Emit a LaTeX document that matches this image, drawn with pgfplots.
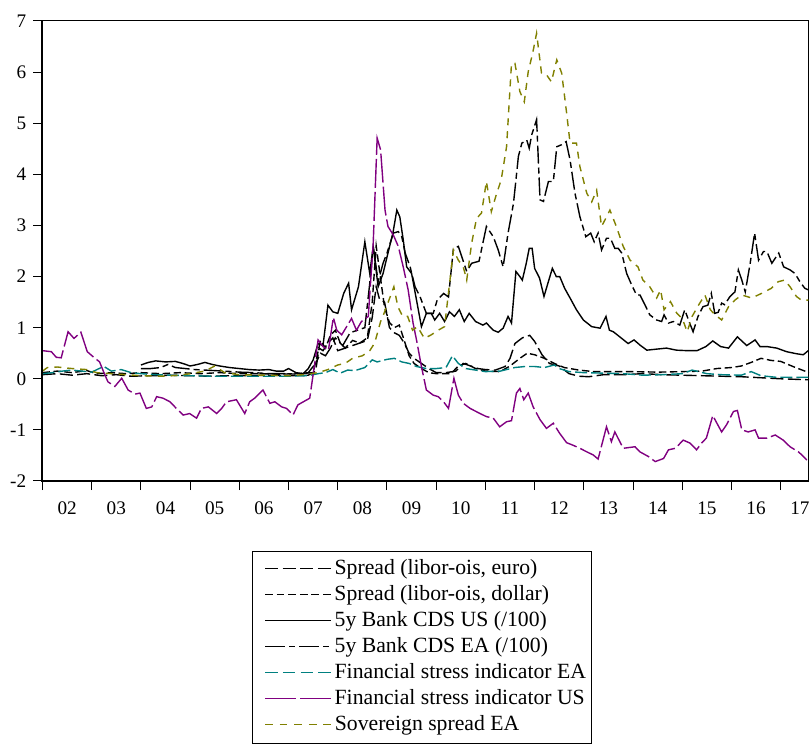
\documentclass[border=0pt]{standalone}
\usepackage{fontspec}
\setmainfont{Liberation Serif}
\usepackage{pgfplots}
\pgfplotsset{compat=1.18}
\definecolor{fsiea}{RGB}{0,128,128}
\definecolor{fsius}{RGB}{128,0,128}
\definecolor{sov}{RGB}{128,128,0}
\newcommand{\seg}[1]{\rule[2.8pt]{#1}{0.65pt}}
\newcommand{\gap}[1]{\hspace*{#1}}
\begin{document}
\begin{tikzpicture}
\begin{axis}[
 at={(0,0)}, anchor=south west,
 scale only axis, width=383.25pt, height=230pt,
 xmin=2002, xmax=2017.575, ymin=-2, ymax=7,
 clip=false,
 axis line style={line width=0.5pt},
 tick align=outside, tick pos=left,
 tick style={line width=0.5pt, black},
 xtick={2002,2003,...,2017}, xticklabels={},
 minor x tick num=3,
 major tick length=4.6pt, minor tick length=2.4pt,
 ytick={-2,-1,...,7}, yticklabels={-2,-1,0,1,2,3,4,5,6,7},
 extra x ticks={2002.5,2003.5,2004.5,2005.5,2006.5,2007.5,2008.5,2009.5,2010.5,2011.5,2012.5,2013.5,2014.5,2015.5,2016.5,2017.39},
 extra x tick labels={02,03,04,05,06,07,08,09,10,11,12,13,14,15,16,17},
 extra x tick style={major tick length=0pt, xticklabel style={yshift=-7pt}},
 tick label style={font=\fontsize{9.6}{11}\selectfont},
 every axis plot/.append style={line width=0.7pt},
 legend cell align=left,
 legend image code/.code={},
 legend style={name=leg, at={(axis description cs:0.2742,-0.1522)}, anchor=north west,
   draw=none, fill=none, font=\fontsize{10.85}{12}\selectfont,
   inner xsep=1pt, inner ysep=2.5pt, row sep=0pt, column sep=0pt,
   nodes={inner ysep=1.5pt, inner xsep=1.5pt, text height=7.5pt, text depth=2.5pt}},
]
% Spread euro
\addplot[draw=black, dash pattern=on 6.5pt off 2.2pt] coordinates {
(2002.0,0.08)(2002.3,0.1)(2002.6,0.07)(2002.9,0.1)(2003.2,0.06)(2003.5,0.08)(2003.8,0.05)
(2004.2,0.06)(2004.6,0.07)(2005.0,0.06)(2005.4,0.05)(2005.8,0.06)(2006.2,0.06)(2006.6,0.07)
(2007.0,0.06)(2007.4,0.07)(2007.55,0.15)(2007.62,0.6)(2007.7,0.55)(2007.8,0.7)(2007.9,0.8)
(2008.0,0.55)(2008.15,0.6)(2008.3,0.65)(2008.45,0.7)(2008.6,0.75)(2008.7,1.2)(2008.78,1.8)
(2008.85,1.55)(2008.95,1.5)(2009.05,1.0)(2009.15,0.9)(2009.25,0.85)(2009.35,0.7)(2009.45,0.5)
(2009.55,0.4)(2009.7,0.3)(2009.85,0.2)(2010.0,0.12)(2010.2,0.12)(2010.4,0.15)(2010.55,0.3)
(2010.7,0.25)(2010.85,0.2)(2011.0,0.18)(2011.2,0.17)(2011.4,0.24)(2011.5,0.4)(2011.6,0.69)
(2011.75,0.8)(2011.9,0.85)(2012.0,0.73)(2012.15,0.47)(2012.3,0.3)(2012.5,0.25)(2012.7,0.1)
(2012.9,0.05)(2013.1,0.04)(2013.4,0.08)(2013.8,0.08)(2014.2,0.1)(2014.6,0.08)(2015.0,0.07)
(2015.4,0.06)(2015.8,0.05)(2016.2,0.04)(2016.6,0.02)(2017.0,0.0)(2017.575,-0.02)};
\addlegendentry{\gap{3.5pt}\seg{6.6pt}\gap{2.2pt}\seg{6.6pt}\gap{2.2pt}\seg{6.6pt}\gap{2.2pt}\seg{6.6pt}\gap{1.8pt}Spread (libor-ois, euro)}
% Spread dollar
\addplot[draw=black, dash pattern=on 3.7pt off 1.8pt] coordinates {
(2002.0,0.12)(2002.3,0.15)(2002.6,0.12)(2002.9,0.16)(2003.1,0.1)(2003.4,0.12)(2003.7,0.1)
(2004.0,0.12)(2004.4,0.1)(2004.8,0.12)(2005.2,0.1)(2005.6,0.12)(2006.0,0.1)(2006.4,0.1)
(2006.8,0.09)(2007.2,0.1)(2007.5,0.12)(2007.58,0.45)(2007.65,0.75)(2007.75,0.6)(2007.85,0.85)
(2007.95,0.95)(2008.05,0.7)(2008.15,0.6)(2008.3,0.75)(2008.45,0.7)(2008.6,0.8)(2008.7,1.5)
(2008.78,2.6)(2008.85,2.1)(2008.95,1.4)(2009.05,1.1)(2009.15,1.0)(2009.25,1.05)(2009.35,0.75)
(2009.45,0.45)(2009.55,0.3)(2009.7,0.2)(2009.85,0.12)(2010.0,0.1)(2010.3,0.1)(2010.45,0.25)
(2010.6,0.3)(2010.8,0.2)(2011.0,0.15)(2011.3,0.14)(2011.5,0.25)(2011.7,0.4)(2011.85,0.5)
(2012.0,0.47)(2012.2,0.4)(2012.4,0.3)(2012.6,0.22)(2012.9,0.17)(2013.2,0.14)(2013.6,0.14)
(2014.0,0.14)(2014.5,0.13)(2015.0,0.14)(2015.4,0.15)(2015.7,0.2)(2016.0,0.22)(2016.2,0.25)
(2016.4,0.32)(2016.6,0.4)(2016.8,0.36)(2017.0,0.34)(2017.3,0.22)(2017.575,0.12)};
\addlegendentry{\gap{3.5pt}\seg{3.9pt}\gap{1.9pt}\seg{3.9pt}\gap{1.9pt}\seg{3.9pt}\gap{1.9pt}\seg{3.9pt}\gap{1.9pt}\seg{3.9pt}\gap{1.9pt}\seg{3.9pt}\gap{1.8pt}Spread (libor-ois, dollar)}
% CDS US
\addplot[draw=black, solid] coordinates {
(2004.0,0.27)(2004.15,0.32)(2004.3,0.35)(2004.5,0.33)(2004.7,0.34)(2004.85,0.3)(2005.0,0.25)
(2005.15,0.28)(2005.3,0.32)(2005.45,0.28)(2005.6,0.25)(2005.8,0.22)(2006.0,0.2)(2006.2,0.18)
(2006.4,0.17)(2006.6,0.18)(2006.75,0.15)(2006.9,0.15)(2007.0,0.2)(2007.15,0.12)(2007.3,0.1)
(2007.4,0.2)(2007.5,0.37)(2007.6,0.69)(2007.7,0.65)(2007.8,1.44)(2007.9,1.31)(2008.0,1.28)
(2008.12,1.67)(2008.22,1.87)(2008.28,1.35)(2008.42,1.8)(2008.55,2.68)(2008.65,2.06)(2008.72,2.59)
(2008.82,1.80)(2008.92,2.06)(2009.02,2.46)(2009.12,2.85)(2009.2,3.30)(2009.26,3.17)(2009.33,2.72)
(2009.4,2.19)(2009.5,2.06)(2009.6,1.54)(2009.7,1.02)(2009.8,1.28)(2009.9,1.28)(2009.97,1.15)
(2010.07,1.28)(2010.17,1.12)(2010.27,1.31)(2010.37,1.22)(2010.47,1.35)(2010.57,1.12)(2010.67,1.28)
(2010.8,1.12)(2010.95,1.05)(2011.02,1.09)(2011.16,0.95)(2011.26,0.91)(2011.36,0.99)(2011.46,1.22)
(2011.53,1.09)(2011.62,2.10)(2011.7,2.0)(2011.75,1.93)(2011.83,2.26)(2011.89,2.55)(2011.95,2.55)
(2012.0,2.16)(2012.1,1.97)(2012.19,1.61)(2012.27,1.87)(2012.36,2.16)(2012.44,2.0)(2012.51,2.0)
(2012.61,1.77)(2012.72,1.58)(2012.85,1.35)(2012.99,1.15)(2013.16,1.02)(2013.33,0.99)(2013.45,1.22)
(2013.52,0.95)(2013.6,0.92)(2013.73,0.82)(2013.9,0.69)(2014.02,0.76)(2014.14,0.66)(2014.28,0.56)
(2014.48,0.58)(2014.68,0.6)(2014.88,0.56)(2015.1,0.55)(2015.3,0.55)(2015.48,0.63)(2015.62,0.74)
(2015.78,0.63)(2015.94,0.6)(2016.12,0.82)(2016.31,0.65)(2016.48,0.76)(2016.58,0.63)(2016.72,0.63)
(2016.92,0.6)(2017.12,0.53)(2017.32,0.49)(2017.46,0.47)(2017.56,0.55)};
\addlegendentry{\gap{3.5pt}\seg{33pt}\gap{1.8pt}5y Bank CDS US (/100)}
% CDS EA
\addplot[draw=black, dash pattern=on 9pt off 2pt on 3pt off 2pt] coordinates {
(2004.0,0.2)(2004.2,0.2)(2004.4,0.22)(2004.55,0.28)(2004.7,0.22)(2004.9,0.2)(2005.1,0.18)
(2005.3,0.17)(2005.5,0.16)(2005.7,0.15)(2006.0,0.13)(2006.3,0.12)(2006.6,0.1)(2006.9,0.1)
(2007.2,0.09)(2007.4,0.12)(2007.55,0.3)(2007.65,0.5)(2007.75,0.45)(2007.85,0.6)(2007.95,0.8)
(2008.1,0.65)(2008.25,0.9)(2008.4,0.95)(2008.55,1.0)(2008.65,1.87)(2008.72,2.59)(2008.82,1.9)
(2008.92,2.26)(2009.0,2.46)(2009.13,2.85)(2009.23,2.88)(2009.3,2.78)(2009.37,2.46)(2009.47,2.19)
(2009.57,1.8)(2009.67,1.61)(2009.8,1.28)(2009.94,1.28)(2010.02,1.54)(2010.15,1.67)(2010.25,1.6)
(2010.35,2.55)(2010.45,2.59)(2010.62,2.1)(2010.72,2.26)(2010.87,2.3)(2011.02,2.98)(2011.16,2.78)
(2011.26,2.52)(2011.36,2.19)(2011.46,2.85)(2011.57,3.43)(2011.67,4.35)(2011.74,4.61)(2011.84,4.67)
(2011.89,4.51)(2011.94,4.77)(2012.04,5.07)(2012.11,3.5)(2012.18,3.47)(2012.28,3.86)(2012.38,3.86)
(2012.45,4.54)(2012.55,4.58)(2012.64,4.64)(2012.72,4.28)(2012.82,3.63)(2012.92,3.17)(2013.04,2.78)
(2013.14,2.85)(2013.21,2.68)(2013.29,2.85)(2013.36,2.52)(2013.46,2.75)(2013.54,2.75)(2013.63,2.55)
(2013.7,2.55)(2013.77,2.46)(2013.87,2.06)(2013.97,1.84)(2014.07,1.64)(2014.14,1.64)(2014.24,1.45)
(2014.34,1.25)(2014.48,1.15)(2014.58,1.12)(2014.63,1.25)(2014.72,1.09)(2014.82,1.12)(2014.95,1.05)
(2015.05,1.35)(2015.15,1.09)(2015.22,0.92)(2015.32,1.22)(2015.42,1.41)(2015.52,1.44)(2015.59,1.67)
(2015.66,1.28)(2015.73,1.3)(2015.8,1.48)(2015.86,1.45)(2015.97,1.61)(2016.07,1.7)(2016.14,2.13)
(2016.21,1.93)(2016.28,1.7)(2016.38,2.26)(2016.47,2.85)(2016.55,2.32)(2016.65,2.49)(2016.72,2.49)
(2016.82,2.26)(2016.96,2.46)(2017.06,2.19)(2017.19,2.13)(2017.29,2.06)(2017.39,1.90)(2017.49,1.77)
(2017.56,1.74)};
\addlegendentry{\gap{3.5pt}\seg{10pt}\gap{2pt}\seg{3pt}\gap{2pt}\seg{10pt}\gap{2pt}\seg{3pt}\gap{2.8pt}5y Bank CDS EA (/100)}
% FSI EA
\addplot[draw=fsiea, dash pattern=on 6pt off 2pt] coordinates {
(2002.0,0.1)(2002.2,0.12)(2002.4,0.15)(2002.6,0.17)(2002.8,0.15)(2003.0,0.13)(2003.15,0.2)
(2003.25,0.24)(2003.4,0.15)(2003.6,0.18)(2003.8,0.12)(2004.0,0.1)(2004.3,0.08)(2004.6,0.07)
(2005.0,0.06)(2005.5,0.05)(2006.0,0.05)(2006.5,0.05)(2007.0,0.05)(2007.4,0.06)(2007.6,0.1)
(2007.75,0.12)(2007.9,0.18)(2008.05,0.11)(2008.2,0.17)(2008.35,0.16)(2008.55,0.22)(2008.7,0.37)
(2008.8,0.33)(2009.0,0.38)(2009.15,0.4)(2009.3,0.33)(2009.45,0.3)(2009.6,0.24)(2009.8,0.2)
(2010.0,0.2)(2010.2,0.22)(2010.33,0.45)(2010.45,0.3)(2010.6,0.2)(2010.8,0.17)(2011.0,0.14)
(2011.3,0.15)(2011.6,0.22)(2011.8,0.24)(2012.0,0.24)(2012.2,0.22)(2012.4,0.27)(2012.5,0.2)
(2012.7,0.14)(2013.0,0.12)(2013.4,0.11)(2013.8,0.1)(2014.2,0.07)(2014.6,0.08)(2015.0,0.1)
(2015.2,0.17)(2015.5,0.1)(2015.8,0.08)(2016.2,0.07)(2016.4,0.14)(2016.6,0.06)(2016.9,0.03)
(2017.2,0.03)(2017.575,0.03)};
\addlegendentry{\gap{3.5pt}\textcolor{fsiea}{\seg{6.3pt}\gap{2.6pt}\seg{6.3pt}\gap{2.6pt}\seg{6.3pt}\gap{2.6pt}\seg{6.3pt}}\gap{1.8pt}Financial stress indicator EA}
% FSI US
\addplot[draw=fsius, dash pattern=on 14.5pt off 2pt] coordinates {
(2002.0,0.55)(2002.18,0.53)(2002.28,0.42)(2002.38,0.41)(2002.52,0.92)(2002.64,0.79)(2002.78,0.91)
(2002.91,0.53)(2003.03,0.43)(2003.16,0.33)(2003.27,0.07)(2003.33,-0.06)(2003.47,-0.15)(2003.61,0.01)
(2003.74,-0.22)(2003.88,-0.30)(2003.98,-0.28)(2004.11,-0.58)(2004.22,-0.55)(2004.32,-0.35)(2004.45,-0.38)
(2004.59,-0.45)(2004.72,-0.58)(2004.86,-0.71)(2004.99,-0.68)(2005.13,-0.77)(2005.23,-0.58)(2005.37,-0.55)
(2005.54,-0.68)(2005.64,-0.58)(2005.74,-0.45)(2005.94,-0.41)(2006.11,-0.68)(2006.21,-0.45)(2006.31,-0.38)
(2006.48,-0.22)(2006.62,-0.48)(2006.72,-0.45)(2006.86,-0.55)(2006.96,-0.58)(2007.09,-0.71)(2007.19,-0.51)
(2007.43,-0.38)(2007.60,0.76)(2007.70,0.63)(2007.81,0.56)(2007.91,1.2)(2007.98,0.95)(2008.08,0.86)
(2008.18,1.02)(2008.28,1.18)(2008.38,0.95)(2008.48,1.12)(2008.62,1.22)(2008.72,2.65)(2008.80,4.71)
(2008.87,4.48)(2008.96,3.30)(2009.02,2.98)(2009.13,2.81)(2009.23,2.59)(2009.33,2.19)(2009.43,1.74)
(2009.53,1.09)(2009.60,0.76)(2009.70,0.24)(2009.80,-0.22)(2009.94,-0.32)(2010.04,-0.35)(2010.15,-0.45)
(2010.25,-0.58)(2010.36,0.01)(2010.45,-0.32)(2010.55,-0.48)(2010.69,-0.58)(2010.89,-0.68)(2011.02,-0.74)
(2011.16,-0.77)(2011.29,-0.94)(2011.43,-0.84)(2011.53,-0.82)(2011.63,-0.28)(2011.70,-0.19)(2011.78,-0.41)
(2011.87,-0.28)(2011.97,-0.55)(2012.11,-0.80)(2012.24,-0.97)(2012.38,-0.87)(2012.51,-1.07)(2012.65,-1.25)
(2012.78,-1.30)(2012.92,-1.36)(2013.06,-1.43)(2013.19,-1.49)(2013.29,-1.57)(2013.46,-0.94)(2013.56,-1.23)
(2013.63,-1.04)(2013.80,-1.36)(2014.04,-1.33)(2014.14,-1.43)(2014.31,-1.52)(2014.45,-1.62)(2014.62,-1.56)
(2014.72,-1.39)(2014.86,-1.36)(2015.02,-1.20)(2015.16,-1.26)(2015.29,-1.39)(2015.39,-1.26)(2015.49,-1.16)
(2015.62,-0.72)(2015.80,-1.04)(2015.90,-0.90)(2016.04,-0.64)(2016.12,-0.62)(2016.21,-1.00)(2016.34,-1.04)
(2016.48,-1.00)(2016.55,-1.16)(2016.72,-1.16)(2016.89,-1.10)(2017.05,-1.20)(2017.19,-1.33)(2017.36,-1.43)
(2017.43,-1.49)(2017.53,-1.59)};
\addlegendentry{\gap{3.5pt}\textcolor{fsius}{\seg{15.5pt}\gap{2pt}\seg{15.5pt}}\gap{1.8pt}Financial stress indicator US}
% Sovereign spread EA
\addplot[draw=sov, dash pattern=on 3.5pt off 3pt] coordinates {
(2002.0,0.15)(2002.1,0.22)(2002.3,0.23)(2002.6,0.2)(2002.9,0.18)(2003.1,0.12)(2003.4,0.1)
(2003.7,0.08)(2004.0,0.06)(2004.5,0.05)(2004.8,0.07)(2005.0,0.1)(2005.3,0.15)(2005.5,0.25)
(2005.7,0.12)(2006.0,0.08)(2006.5,0.07)(2007.0,0.06)(2007.3,0.08)(2007.6,0.12)(2007.8,0.18)
(2008.0,0.27)(2008.15,0.3)(2008.3,0.4)(2008.5,0.45)(2008.65,0.55)(2008.75,0.7)(2008.87,1.12)
(2008.94,1.28)(2009.04,1.54)(2009.14,1.80)(2009.22,1.41)(2009.32,1.22)(2009.42,1.22)(2009.52,0.95)
(2009.62,1.02)(2009.76,0.79)(2009.9,0.86)(2010.04,0.95)(2010.17,1.02)(2010.35,2.52)(2010.45,2.32)
(2010.55,2.19)(2010.62,1.93)(2010.72,2.65)(2010.82,3.14)(2010.92,3.24)(2011.02,3.86)(2011.12,3.27)
(2011.22,3.60)(2011.32,3.89)(2011.43,4.54)(2011.53,6.17)(2011.6,6.17)(2011.7,5.62)(2011.79,5.42)
(2011.87,6.01)(2011.96,6.37)(2012.04,6.76)(2012.14,5.98)(2012.24,5.95)(2012.34,5.81)(2012.45,6.24)
(2012.55,5.98)(2012.65,5.20)(2012.72,4.61)(2012.85,4.61)(2012.92,4.15)(2013.06,3.63)(2013.16,3.46)
(2013.26,3.69)(2013.36,2.98)(2013.43,3.11)(2013.53,3.30)(2013.66,2.98)(2013.8,2.59)(2013.94,2.32)
(2014.1,2.19)(2014.2,1.93)(2014.34,1.80)(2014.48,1.58)(2014.56,1.74)(2014.63,1.35)(2014.76,1.51)
(2014.89,1.28)(2015.0,1.18)(2015.1,0.92)(2015.2,1.22)(2015.33,1.44)(2015.46,1.64)(2015.57,1.35)
(2015.67,1.25)(2015.8,1.15)(2015.94,1.41)(2016.07,1.54)(2016.21,1.64)(2016.41,1.58)(2016.61,1.67)
(2016.81,1.77)(2016.95,1.90)(2017.08,1.93)(2017.19,1.80)(2017.32,1.61)(2017.42,1.54)(2017.56,1.54)};
\addlegendentry{\gap{3.5pt}\textcolor{sov}{\seg{3.9pt}\gap{3.4pt}\seg{3.9pt}\gap{3.4pt}\seg{3.9pt}\gap{3.4pt}\seg{3.9pt}\gap{3.4pt}\seg{3.9pt}}\gap{1.8pt}Sovereign spread EA}
\draw[line width=1pt] (rel axis cs:0,1) -- (rel axis cs:0,0) -- (rel axis cs:1,0);
\end{axis}
\draw[line width=0.5pt] (leg.north west) rectangle (leg.south east);
\pgfresetboundingbox
\useasboundingbox (-21.25pt,-131.5pt) rectangle (384.25pt,240.5pt);
\end{tikzpicture}
\end{document}
